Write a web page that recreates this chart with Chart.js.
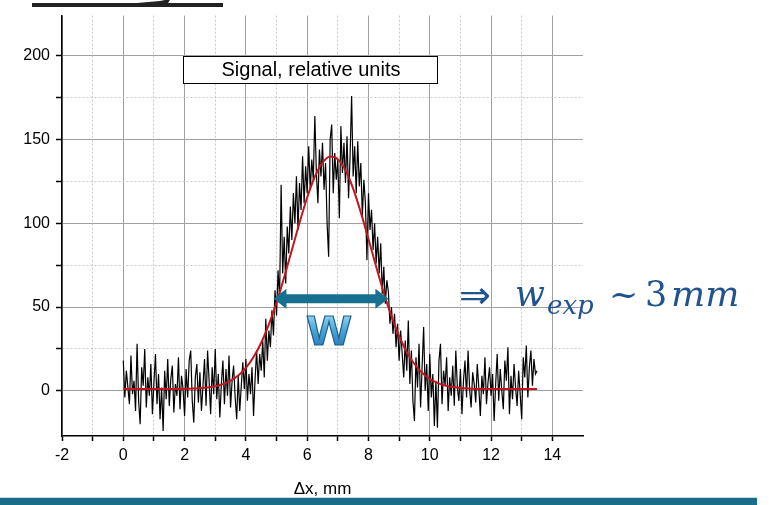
<!DOCTYPE html>
<html>
<head>
<meta charset="utf-8">
<script src="https://cdn.jsdelivr.net/npm/chart.js@4.4.1/dist/chart.umd.min.js"></script>
<style>
  html, body { margin: 0; padding: 0; background: #fff; }
</style>
</head>
<body>
<canvas id="myChart" width="769" height="505"></canvas>
<script>
// measured signal, sampled every 0.05 mm starting at 0 mm
const signalStart = 0;
const signalStep = 0.05;
const signalValues = [
    18, -4, 12, 2, -8, 21, -2, 6, -12, 28,
    -6, -20, 14, 3, 25, -10, 8, -3, 16, -14,
    5, 22, -8, 10, -17, 2, -24, 12, -5, 19,
    -9, 7, 15, -13, 4, -3, 20, -11, 9, 1,
    -15, 13, -4, 18, 24, -6, -19, 8, 16, -7,
    11, -12, 3, 19, -9, 24, 6, -14, 14, -2,
    25, -5, 10, -16, 4, 18, -8, 13, -3, 21,
    -10, 6, 15, -4, -17, 9, -12, 3, 17, 1,
    19, -6, 10, -2, 14, -15, 7, 24, 4, 22,
    12, 30, 8, 43, 18, 36, 26, 48, 33, 60,
    45, 72, 55, 123, 70, 92, 64, 98, 82, 110,
    90, 118, 100, 128, 96, 124, 108, 140, 112, 134,
    118, 146, 120, 138, 126, 164, 130, 112, 144, 128,
    148, 120, 136, 100, 80, 150, 159, 118, 142, 126,
    138, 103, 158, 130, 148, 124, 152, 115, 140, 176,
    128, 146, 118, 149, 122, 136, 104, 126, 112, 78,
    118, 96, 108, 84, 100, 76, 92, 70, 88, 58,
    74, 52, 66, 59, 40, 50, 34, 46, 26, 40,
    18, 36, 22, 8, 30, 12, 42, 4, 24, -6,
    -18, 20, 2, 28, -10, 14, 38, 0, 16, -12,
    22, -4, 10, -21, 6, -22, 18, 28, -8, 12,
    3, 20, -12, 8, -3, 15, -9, 24, 2, -6,
    13, -14, 6, 18, -4, 24, 1, -10, 11, 4,
    -7, 16, 2, -15, 9, -2, 20, -8, 5, 14,
    -3, 10, -18, 4, 22, -6, 13, 0, -11, 18,
    6, 26, -14, 9, -5, 16, 2, -9, 12, -2,
    -17, 20, 8, 27, -4, 14, 24, 3, 19, 10,
    12
];

// fitted curve, read every 0.25 mm
const fitStart = 0;
const fitStep = 0.25;
const fitValues = [
    1, 1, 1, 1, 1, 1, 1, 1.1, 1.1, 1.3, 1.5, 1.9,
    2.7, 4.0, 6.0, 9.1, 13.7, 20.2, 28.7, 39.6, 52.7, 67.8, 84.0, 100.3,
    115.4, 127.8, 136.2, 139.9, 138.3, 131.7, 120.7, 106.5, 90.6, 74.2, 58.5, 44.5,
    32.7, 23.2, 16.0, 10.8, 7.1, 4.7, 3.1, 2.2, 1.6, 1.3, 1.1, 1.0,
    1, 1, 1, 1, 1, 1, 1
];

const xTicks = [-2, -1, 0, 1, 2, 3, 4, 5, 6, 7, 8, 9, 10, 11, 12, 13, 14];
const yTicks = [0, 25, 50, 75, 100, 125, 150, 175, 200];

const arrowSpan = [4.9, 8.65];
const arrowLevel = 55;

const toPoints = (start, step, values) => values.map((v, i) => ({ x: start + i * step, y: v }));

Chart.defaults.font.family = '"Liberation Sans", Arial, sans-serif';

const decor = {
    id: 'decor',
    afterDatasetsDraw(chart) {
        const ctx = chart.ctx;
        const x = chart.scales.x, y = chart.scales.y;
        ctx.save();

        // label box
        ctx.fillStyle = '#fff';
        ctx.fillRect(183.5, 56.5, 254, 27);
        ctx.strokeStyle = '#000';
        ctx.lineWidth = 1;
        ctx.strokeRect(183.5, 56.5, 254, 27);
        ctx.fillStyle = '#000';
        ctx.font = '20px "Liberation Sans"';
        ctx.textAlign = 'center';
        ctx.textBaseline = 'middle';
        ctx.fillText('Signal, relative units', 311, 70.5);

        // width arrow
        const xl = x.getPixelForValue(arrowSpan[0]);
        const xr = x.getPixelForValue(arrowSpan[1]);
        const ya = y.getPixelForValue(arrowLevel);
        const head = 13, half = 10, shaft = 4.5;
        ctx.fillStyle = '#17708f';
        ctx.beginPath();
        ctx.moveTo(xl, ya);
        ctx.lineTo(xl + head, ya - half);
        ctx.lineTo(xl + head, ya - shaft);
        ctx.lineTo(xr - head, ya - shaft);
        ctx.lineTo(xr - head, ya - half);
        ctx.lineTo(xr, ya);
        ctx.lineTo(xr - head, ya + half);
        ctx.lineTo(xr - head, ya + shaft);
        ctx.lineTo(xl + head, ya + shaft);
        ctx.lineTo(xl + head, ya + half);
        ctx.closePath();
        ctx.fill();

        // "w" label
        ctx.font = 'bold 56px "Liberation Sans"';
        ctx.textAlign = 'center';
        ctx.textBaseline = 'alphabetic';
        const g = ctx.createLinearGradient(0, 314, 0, 346);
        g.addColorStop(0, '#9ad6f2');
        g.addColorStop(0.5, '#4aa6da');
        g.addColorStop(1, '#2d7fba');
        ctx.fillStyle = g;
        ctx.fillText('w', 329, 345);
        ctx.strokeStyle = '#1d5f8c';
        ctx.lineWidth = 1.2;
        ctx.strokeText('w', 329, 345);

        // result formula
        ctx.fillStyle = '#21538f';
        ctx.textAlign = 'left';
        ctx.font = '38px "DejaVu Sans"';
        ctx.fillText('\u21D2', 459, 308);
        ctx.font = 'italic 35px "DejaVu Serif"';
        ctx.fillText('w', 515, 306);
        ctx.font = 'italic 26px "DejaVu Serif"';
        ctx.fillText('exp', 547, 314);
        ctx.font = '35px "DejaVu Serif"';
        ctx.fillText('~', 609, 306);
        ctx.fillText('3', 645, 306);
        ctx.font = 'italic 36px "DejaVu Serif"';
        ctx.fillText('mm', 671, 306);

        // slide decorations
        ctx.fillStyle = '#222';
        ctx.fillRect(32, 3, 191, 4);
        ctx.beginPath();
        ctx.moveTo(137, 3);
        ctx.lineTo(160, 1);
        ctx.lineTo(165, 0);
        ctx.lineTo(170, 0);
        ctx.lineTo(168, 3);
        ctx.closePath();
        ctx.fill();
        ctx.fillStyle = '#c9d9e0';
        ctx.fillRect(0, 497, 757, 1);
        ctx.fillStyle = '#1b6d8c';
        ctx.fillRect(0, 498, 757, 7);
        ctx.restore();
    }
};

const isMinor = (ctx, step) => ctx.tick && Math.abs(ctx.tick.value % step) > 1e-9;

new Chart(document.getElementById('myChart'), {
    type: 'line',
    data: {
        datasets: [{
            label: 'fit',
            data: toPoints(fitStart, fitStep, fitValues),
            borderColor: '#c4161c',
            borderWidth: 2,
            pointRadius: 0,
            cubicInterpolationMode: 'monotone'
        }, {
            label: 'signal',
            data: toPoints(signalStart, signalStep, signalValues),
            borderColor: '#000',
            borderWidth: 1.2,
            pointRadius: 0,
            tension: 0
        }]
    },
    options: {
        responsive: false,
        animation: false,
        devicePixelRatio: 1,
        layout: { padding: { top: 12, right: 186, left: 0, bottom: 0 } },
        plugins: {
            legend: { display: false },
            tooltip: { enabled: false }
        },
        scales: {
            x: {
                type: 'linear',
                min: -2,
                max: 15,
                afterBuildTicks: s => { s.ticks = xTicks.map(v => ({ value: v })); },
                afterFit: s => { s.height = 69; },
                ticks: {
                    autoSkip: false,
                    maxRotation: 0,
                    padding: 5,
                    color: '#000',
                    font: { size: 16 },
                    callback: v => (v % 2 === 0 ? String(v) : '')
                },
                grid: {
                    color: ctx => isMinor(ctx, 2) ? '#c8c8c8' : '#a0a0a0',
                    lineWidth: 1,
                    tickLength: 5,
                    tickColor: '#000',
                    tickWidth: 1.5
                },
                border: {
                    color: '#000',
                    width: 1.5,
                    dash: ctx => isMinor(ctx, 2) ? [2, 2] : []
                },
                title: {
                    display: true,
                    text: 'Δx, mm',
                    color: '#000',
                    font: { size: 17 },
                    padding: { top: 0, bottom: 5 }
                }
            },
            y: {
                min: -27,
                max: 224,
                afterBuildTicks: s => { s.ticks = yTicks.map(v => ({ value: v })); },
                afterFit: s => { s.width = 62; },
                ticks: {
                    padding: 6,
                    color: '#000',
                    font: { size: 16 },
                    callback: v => (v % 50 === 0 ? String(v) : '')
                },
                grid: {
                    color: ctx => isMinor(ctx, 50) ? '#c8c8c8' : '#a0a0a0',
                    lineWidth: 1,
                    tickLength: 6,
                    tickColor: '#000',
                    tickWidth: 1.5
                },
                border: {
                    color: '#000',
                    width: 1.5,
                    dash: ctx => isMinor(ctx, 50) ? [2, 2] : []
                }
            }
        }
    },
    plugins: [decor]
});
</script>
</body>
</html>
